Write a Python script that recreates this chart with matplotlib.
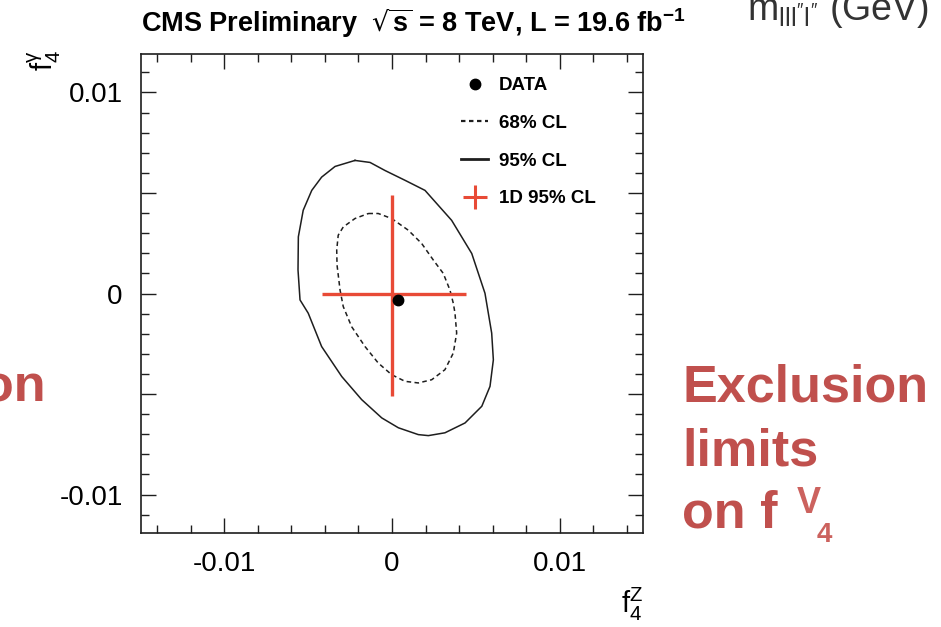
import numpy as np
import matplotlib
matplotlib.use("Agg")
import matplotlib.pyplot as plt
from matplotlib.lines import Line2D
from matplotlib.ticker import MultipleLocator, FuncFormatter

plt.rcParams['font.family'] = ['Liberation Sans', 'DejaVu Sans']
plt.rcParams['mathtext.default'] = 'regular'

# 95% CL contour (solid)
outer95_x = [-0.00221, -0.00131, -0.00042, 0.00078, 0.00197, 0.00356, 0.00476,
             0.00555, 0.00595, 0.00605, 0.00585, 0.00536, 0.00436, 0.00316,
             0.00217, 0.00157, 0.00038, -0.00061, -0.00181, -0.00300, -0.00420,
             -0.00500, -0.00549, -0.00561, -0.00559, -0.00530, -0.00479,
             -0.00420, -0.00340]
outer95_y = [0.00662, 0.00652, 0.00612, 0.00563, 0.00513, 0.00364, 0.00199,
             0.00001, -0.00197, -0.00330, -0.00462, -0.00561, -0.00644, -0.00693,
             -0.00707, -0.00702, -0.00668, -0.00619, -0.00528, -0.00413, -0.00264,
             -0.00098, -0.00032, 0.00117, 0.00282, 0.00414, 0.00513,
             0.00579, 0.00632]

# 68% CL contour (dashed)
inner68_x = [-0.00141, -0.00082, -0.00002, 0.00097, 0.00177, 0.00247, 0.00306,
             0.00346, 0.00366, 0.00376, 0.00386, 0.00366, 0.00316, 0.00237,
             0.00157, 0.00078, -0.00002, -0.00082, -0.00161, -0.00241, -0.00291,
             -0.00310, -0.00328, -0.00330, -0.00321, -0.00291, -0.00221]
inner68_y = [0.00398, 0.00398, 0.00373, 0.00315, 0.00249, 0.00166, 0.00100,
             0.00017, -0.00049, -0.00098, -0.00197, -0.00296, -0.00379, -0.00429,
             -0.00445, -0.00437, -0.00404, -0.00346, -0.00264, -0.00165, -0.00065,
             0.00017, 0.00141, 0.00216, 0.00290, 0.00331, 0.00373]

# best fit point
data_x = [0.00034]
data_y = [-0.00032]

# 1D 95% CL intervals: centre, lower, upper
cross_x = [0.0, -0.0042, 0.0044]
cross_y = [0.0, -0.0051, 0.0049]

red = '#e84a36'
ink = '#1e1e1e'

W, H = 941, 627
fig = plt.figure(figsize=(W / 100, H / 100), dpi=100)
ax = fig.add_axes([140.7 / W, (H - 532.7) / H, 502.6 / W, 478.4 / H])


def closed(v):
    return np.append(v, v[0])


ax.plot(closed(outer95_x), closed(outer95_y), color=ink, lw=1.1)
ax.plot(closed(inner68_x), closed(inner68_y), color=ink, lw=1.1,
        dashes=(3.0, 2.2))

ax.errorbar([cross_x[0]], [cross_y[0]],
            xerr=[[cross_x[0] - cross_x[1]], [cross_x[2] - cross_x[0]]],
            yerr=[[cross_y[0] - cross_y[1]], [cross_y[2] - cross_y[0]]],
            fmt='none', ecolor=red, elinewidth=2.4, capsize=0)
ax.plot(data_x, data_y, 'o', color='black', ms=7.5)

ax.set_xlim(-0.015, 0.015)
ax.set_ylim(-0.0119, 0.0119)

ax.xaxis.set_major_locator(MultipleLocator(0.01))
ax.xaxis.set_minor_locator(MultipleLocator(0.002))
ax.yaxis.set_major_locator(MultipleLocator(0.005))
ax.yaxis.set_minor_locator(MultipleLocator(0.001))


def lab(v, p):
    k = v / 0.01
    if abs(k - round(k)) > 1e-6:
        return ''
    return '%g' % round(v, 4)


ax.xaxis.set_major_formatter(FuncFormatter(lab))
ax.yaxis.set_major_formatter(FuncFormatter(lab))

ax.tick_params(which='both', direction='in', top=True, right=True,
               color=ink, labelsize=20, width=1.0)
ax.tick_params(which='major', length=10.8, pad=13)
ax.tick_params(which='minor', length=6)
for s in ax.spines.values():
    s.set_linewidth(1.2)
    s.set_color(ink)

handles = [
    Line2D([], [], ls='none', marker='o', color='black', ms=7.5),
    Line2D([], [], color=ink, lw=1.6, dashes=(2.0, 1.6)),
    Line2D([], [], color=ink, lw=2.0),
    Line2D([], [], ls='none', marker='+', color=red, ms=17, mew=2.2),
]
labels = ['DATA', '68% CL', '95% CL', '1D 95% CL']
ax.legend(handles, labels, loc='upper left', bbox_to_anchor=(0.637, 0.952),
          frameon=False, prop={'weight': 'bold', 'size': 13.5},
          handlelength=1.47, handletextpad=0.55, labelspacing=1.09,
          borderpad=0, borderaxespad=0)

# axis titles
fig.text(643 / W, 1 - 613 / H, r'$f^{Z}_{4}$', fontsize=21, ha='right',
         va='baseline')
fig.text(44 / W, 1 - 50 / H, r'$f^{\gamma}_{4}$', fontsize=21, rotation=90,
         ha='center', va='top')

fig.text(141 / W, 1 - 32 / H,
         r'CMS Preliminary  $\sqrt{s}$ = 8 TeV, L = 19.6 fb$^{-1}$',
         fontsize=19.5, weight='bold', ha='left', va='baseline')

# slide text around the plot
fig.text(747 / W, 1 - 20 / H, r'm$_{lll^{\prime\prime}l^{\prime\prime}}$ (GeV)',
         fontsize=27, color='#333333', ha='left', va='baseline')

brick = '#c0504d'
fig.text(46 / W, 1 - 402 / H, 'on', fontsize=37.5, weight='bold',
         color=brick, ha='right', va='baseline')
fig.text(682 / W, 1 - 402 / H, 'Exclusion', fontsize=37.5, weight='bold',
         color=brick, ha='left', va='baseline')
fig.text(682 / W, 1 - 466 / H, 'limits', fontsize=37.5, weight='bold',
         color=brick, ha='left', va='baseline')
fig.text(682 / W, 1 - 528 / H, 'on f', fontsize=37.5, weight='bold',
         color=brick, ha='left', va='baseline')
fig.text(797 / W, 1 - 513 / H, 'V', fontsize=26, weight='bold',
         color='#cc625e', ha='left', va='baseline')
fig.text(817 / W, 1 - 542 / H, '4', fontsize=20, weight='bold',
         color='#cc625e', ha='left', va='baseline')

fig.savefig('out.png', dpi=100)
